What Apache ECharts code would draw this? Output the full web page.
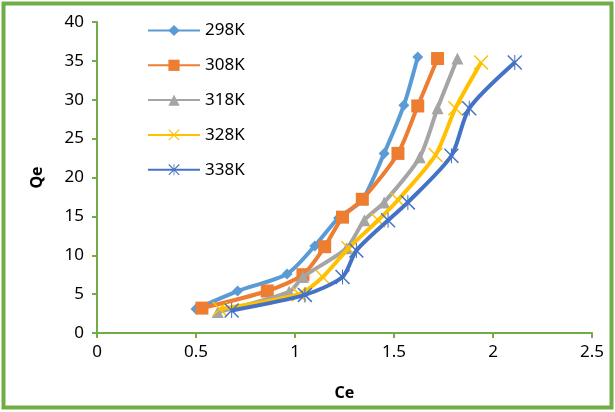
<!DOCTYPE html>
<html>
<head>
<meta charset="utf-8">
<script src="https://cdn.jsdelivr.net/npm/echarts@6/dist/echarts.min.js"></script>
<style>
  html, body { margin: 0; padding: 0; background: #fff; }
  #chart { width: 615px; height: 412px; }
</style>
</head>
<body>
<div id="chart"></div>
<script>
// data (Ce, Qe)
const seriesNames = ["298K", "308K", "318K", "328K", "338K"]
const ce298 = [0.50, 0.71, 0.96, 1.10, 1.22, 1.34, 1.45, 1.55, 1.62]
const qe298 = [3.1, 5.4, 7.6, 11.2, 14.8, 17.1, 23.1, 29.3, 35.5]
const ce308 = [0.53, 0.86, 1.04, 1.15, 1.24, 1.34, 1.52, 1.62, 1.72]
const qe308 = [3.2, 5.4, 7.5, 11.1, 14.9, 17.2, 23.1, 29.2, 35.3]
const ce318 = [0.61, 0.97, 1.04, 1.26, 1.35, 1.45, 1.63, 1.72, 1.82]
const qe318 = [2.7, 5.3, 7.2, 10.9, 14.5, 16.8, 22.6, 28.9, 35.3]
const ce328 = [0.62, 1.02, 1.14, 1.27, 1.42, 1.52, 1.71, 1.81, 1.94]
const qe328 = [3.1, 5.0, 7.2, 10.9, 14.5, 17.1, 22.9, 28.9, 34.8]
const ce338 = [0.68, 1.05, 1.24, 1.31, 1.47, 1.57, 1.79, 1.88, 2.11]
const qe338 = [2.9, 4.9, 7.2, 10.6, 14.5, 16.8, 22.8, 28.9, 34.8]
const xTicks = [0, 0.5, 1, 1.5, 2, 2.5]
const yTicks = [0, 5, 10, 15, 20, 25, 30, 35, 40]

const colors = ["#5B9BD5", "#ED7D31", "#A5A5A5", "#FFC000", "#4472C4"]
const crossPath = "path://M0,0.07L0.07,0L0.5,0.43L0.93,0L1,0.07L0.57,0.5L1,0.93L0.93,1L0.5,0.57L0.07,1L0,0.93L0.43,0.5Z"
const starPath = crossPath.replace("Z", "ZM0.465,0L0.535,0L0.535,1L0.465,1Z")
const symbols = ["diamond", "rect", "triangle", crossPath, starPath]
const symbolSizes = [11, 13, 12, 15, 15]

function pairs(xs, ys) {
  return xs.map((x, i) => [x, ys[i]])
}

const allData = [
  pairs(ce298, qe298),
  pairs(ce308, qe308),
  pairs(ce318, qe318),
  pairs(ce328, qe328),
  pairs(ce338, qe338),
]

const chart = echarts.init(document.getElementById("chart"))
const axisGreen = "#70AD47"
const font = "Noto Sans"

chart.setOption({
  animation: false,
  backgroundColor: "#fff",
  color: colors,
  textStyle: { fontFamily: font },
  graphic: [{
    type: "rect",
    shape: { x: 3.5, y: 3.5, width: 608, height: 404 },
    style: { fill: "none", stroke: axisGreen, lineWidth: 4 },
    silent: true,
  }],
  grid: { left: 97, right: 23, top: 22, bottom: 79 },
  legend: {
    orient: "vertical",
    left: 142,
    top: 17,
    itemWidth: 52,
    itemHeight: 14,
    itemGap: 17.8,
    textStyle: { fontSize: 17, lineHeight: 14, color: "#000", fontFamily: font },
    data: seriesNames,
  },
  xAxis: {
    type: "value",
    min: xTicks[0],
    max: xTicks[xTicks.length - 1],
    interval: 0.5,
    name: "Ce",
    nameLocation: "middle",
    nameGap: 52,
    nameTextStyle: { fontSize: 16, fontWeight: "bold", color: "#000" },
    axisLine: { show: true, lineStyle: { color: axisGreen, width: 2 } },
    axisTick: { show: true, length: 5, lineStyle: { color: axisGreen, width: 2 } },
    axisLabel: { fontSize: 17, color: "#000", margin: 11 },
    splitLine: { show: false },
  },
  yAxis: {
    type: "value",
    min: yTicks[0],
    max: yTicks[yTicks.length - 1],
    interval: 5,
    name: "Qe",
    nameLocation: "middle",
    nameGap: 52,
    nameRotate: 90,
    nameTextStyle: { fontSize: 16, fontWeight: "bold", color: "#000" },
    axisLine: { show: true, lineStyle: { color: axisGreen, width: 2 } },
    axisTick: { show: true, length: 5, lineStyle: { color: axisGreen, width: 2 } },
    axisLabel: { fontSize: 17, color: "#000", margin: 13 },
    splitLine: { show: false },
  },
  series: seriesNames.map((name, i) => ({
    name: name,
    type: "line",
    data: allData[i],
    smooth: 0.25,
    symbol: symbols[i],
    symbolSize: symbolSizes[i],
    lineStyle: { width: 4, color: colors[i] },
    itemStyle: { color: colors[i] },
    z: 2 + i,
  })),
})
</script>
</body>
</html>
